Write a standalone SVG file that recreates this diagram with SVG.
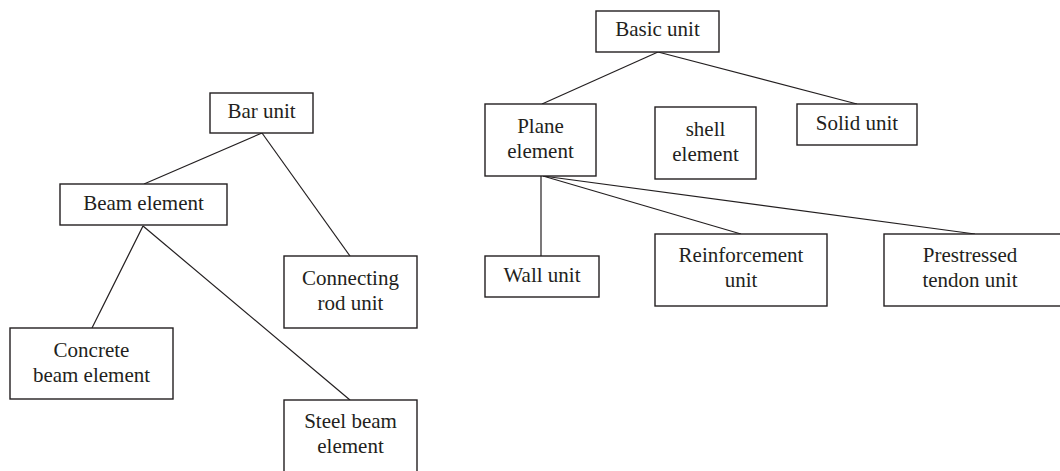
<svg xmlns="http://www.w3.org/2000/svg" width="1060" height="471" viewBox="0 0 1060 471">
<style>
rect.box{fill:#fff;stroke:#231f20;stroke-width:1.4}
text{font-family:"Liberation Serif","Times New Roman",serif;font-size:21px;fill:#231f20;text-anchor:middle}
.conn line{stroke:#231f20;stroke-width:1.2}
</style>
<rect width="1060" height="471" fill="#fff"/>
<g class="conn" id="connectors">
<line x1="262" y1="133" x2="144" y2="184"/>
<line x1="262" y1="133" x2="350" y2="256"/>
<line x1="143" y1="226" x2="92" y2="328"/>
<line x1="143" y1="226" x2="350" y2="400"/>
<line x1="658" y1="52" x2="542" y2="104"/>
<line x1="658" y1="52" x2="857" y2="104"/>
<line x1="541" y1="176" x2="541" y2="256"/>
<line x1="543" y1="176" x2="741" y2="234"/>
<line x1="543" y1="176" x2="975" y2="234"/>
</g>
<g id="bar-unit"><rect class="box" x="210" y="93" width="103" height="40"/><text x="261.5" y="118">Bar unit</text></g>
<g id="beam-element"><rect class="box" x="60" y="184" width="167" height="41"/><text x="143.5" y="210">Beam element</text></g>
<g id="connecting-rod-unit"><rect class="box" x="284" y="256" width="133" height="72"/><text x="350.5" y="284.5">Connecting</text><text x="350.5" y="309.5">rod unit</text></g>
<g id="concrete-beam-element"><rect class="box" x="10" y="328" width="163" height="71"/><text x="91.5" y="356.5">Concrete</text><text x="91.5" y="381.5">beam element</text></g>
<g id="steel-beam-element"><rect class="box" x="284" y="400" width="133" height="73"/><text x="350.5" y="428">Steel beam</text><text x="350.5" y="453">element</text></g>
<g id="basic-unit"><rect class="box" x="596" y="11" width="123" height="41"/><text x="657.5" y="36">Basic unit</text></g>
<g id="plane-element"><rect class="box" x="485" y="104" width="111" height="72"/><text x="540.5" y="133">Plane</text><text x="540.5" y="158">element</text></g>
<g id="shell-element"><rect class="box" x="655" y="107" width="101" height="72"/><text x="705.5" y="136">shell</text><text x="705.5" y="161">element</text></g>
<g id="solid-unit"><rect class="box" x="797" y="104" width="120" height="41"/><text x="857" y="130">Solid unit</text></g>
<g id="wall-unit"><rect class="box" x="485" y="256" width="114" height="41"/><text x="542" y="282">Wall unit</text></g>
<g id="reinforcement-unit"><rect class="box" x="655" y="234" width="172" height="72"/><text x="741" y="262">Reinforcement</text><text x="741" y="287">unit</text></g>
<g id="prestressed-tendon-unit"><rect class="box" x="884" y="234" width="182" height="72"/><text x="970" y="262">Prestressed</text><text x="970" y="287">tendon unit</text></g>
</svg>
